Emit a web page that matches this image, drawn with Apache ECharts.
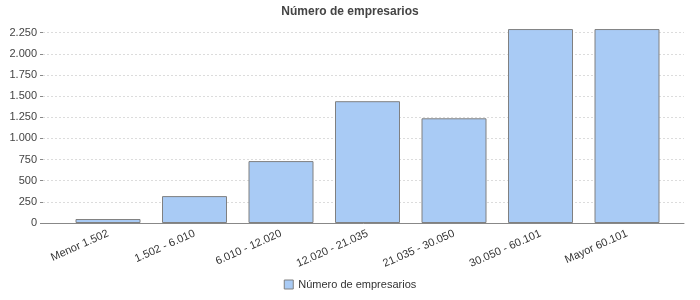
<!DOCTYPE html>
<html><head><meta charset="utf-8">
<script src="https://cdn.jsdelivr.net/npm/echarts@6/dist/echarts.min.js"></script>
<style>html,body{margin:0;padding:0;background:#fff}#c{width:700px;height:300px}</style>
</head><body><div id="c"></div>
<script>
const categories = ['Menor 1.502','1.502 - 6.010','6.010 - 12.020','12.020 - 21.035','21.035 - 30.050','30.050 - 60.101','Mayor 60.101'];
const values = [47, 318, 732, 1440, 1238, 2293, 2293];
const seriesName = 'Número de empresarios';
const chartTitle = 'Número de empresarios';

const FONT = 'Liberation Sans';
const chart = echarts.init(document.getElementById('c'), null, {renderer:'canvas'});
chart.setOption({
  animation:false,
  backgroundColor:'#fff',
  title:{text:chartTitle,left:'center',top:1,textStyle:{fontFamily:FONT,fontSize:12,fontWeight:'bold',color:'#444'}},
  legend:{bottom:5,left:'center',itemWidth:9,itemHeight:9,itemGap:5,
    textStyle:{fontFamily:FONT,fontSize:11,color:'#333'},
    data:[{name:seriesName,icon:'rect',itemStyle:{color:'#A9CBF5',borderColor:'#808080',borderWidth:1}}]},
  grid:[
    {left:43,right:16,top:20,bottom:77,containLabel:false},
    {left:64.75,right:29.75,top:20,bottom:77,containLabel:false}
  ],
  xAxis:[
    {gridIndex:0,type:'value',min:0,max:1,show:true,axisLine:{show:true,onZero:false,lineStyle:{color:'#888',width:1}},axisTick:{show:false},axisLabel:{show:false},splitLine:{show:false}},
    {gridIndex:1,type:'category',data:categories,axisLine:{show:false},axisTick:{show:false},
      axisLabel:{rotate:24,margin:10,interval:0,fontFamily:FONT,fontSize:11,color:'#333'}}
  ],
  yAxis:[
    {gridIndex:0,type:'value',min:0,max:2400,interval:250,
      axisLine:{show:false},axisTick:{show:true,length:3,lineStyle:{color:'#888'}},
      axisLabel:{fontFamily:FONT,fontSize:11,color:'#444',margin:6,showMaxLabel:false,
        formatter:v=> v%250===0 ? v.toLocaleString('de-DE') : ''},
      splitLine:{show:true,showMaxLine:false,lineStyle:{color:'#dcdcdc',type:[2,2],width:1}}},
    {gridIndex:1,type:'value',min:0,max:2400,show:false,splitLine:{show:false}}
  ],
  series:[{name:seriesName,type:'bar',xAxisIndex:1,yAxisIndex:1,data:values,barWidth:65,
    itemStyle:{color:'#A9CBF5',borderColor:'#808080',borderWidth:1}}]
});
</script></body></html>
